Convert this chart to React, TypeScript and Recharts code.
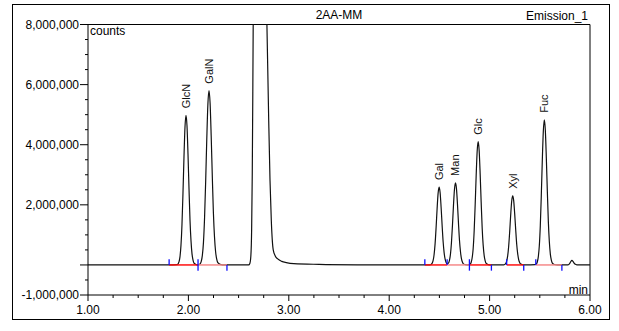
import React from 'react';
import { ComposedChart, Line, Scatter, XAxis, YAxis, ReferenceLine } from 'recharts';

// trace: [minutes, counts in millions]
const glcnGalnTrace: [number, number][] = [
  [1.0, 0], [1.8, 0], [1.886, 0.01], [1.896, 0.03], [1.906, 0.1], [1.916, 0.27],
  [1.926, 0.65], [1.936, 1.34], [1.946, 2.39], [1.956, 3.59], [1.966, 4.58],
  [1.976, 4.98], [1.986, 4.63], [1.996, 3.69], [2.006, 2.54], [2.016, 1.49],
  [2.026, 0.8], [2.036, 0.37], [2.046, 0.16], [2.056, 0.06], [2.076, 0.015],
  [2.096, 0], [2.106, 0.01], [2.117, 0.035], [2.128, 0.12], [2.139, 0.32],
  [2.15, 0.75], [2.161, 1.57], [2.172, 2.78], [2.183, 4.18], [2.194, 5.34],
  [2.205, 5.8], [2.216, 5.39], [2.227, 4.29], [2.238, 2.96], [2.249, 1.74],
  [2.26, 0.93], [2.271, 0.44], [2.282, 0.19], [2.293, 0.075], [2.315, 0.02],
  [2.34, 0.005], [2.4, 0],
];

const solventTrace: [number, number][] = [
  [2.6, 0], [2.612, 0.05], [2.622, 0.3], [2.63, 1.2], [2.636, 3.0], [2.642, 6.0],
  [2.648, 9.5], [2.66, 13.5], [2.7, 16], [2.74, 13.5], [2.765, 10.5], [2.782, 8.0],
  [2.8, 4.8], [2.813, 2.8], [2.826, 1.46], [2.835, 0.85], [2.845, 0.5],
  [2.865, 0.3], [2.89, 0.2], [2.93, 0.12], [2.975, 0.08], [3.05, 0.045],
  [3.3, 0.02], [3.7, 0.005], [4.2, 0],
];

const sugarTrace: [number, number][] = [
  [4.4, 0], [4.407, 0.005], [4.417, 0.016], [4.427, 0.052], [4.437, 0.14],
  [4.447, 0.34], [4.457, 0.7], [4.467, 1.24], [4.477, 1.86], [4.487, 2.38],
  [4.497, 2.59], [4.507, 2.41], [4.517, 1.92], [4.527, 1.32], [4.537, 0.78],
  [4.547, 0.41], [4.557, 0.19], [4.567, 0.085], [4.578, 0.04], [4.59, 0.06],
  [4.6, 0.15], [4.61, 0.35], [4.62, 0.74], [4.63, 1.31], [4.64, 1.97],
  [4.65, 2.51], [4.66, 2.73], [4.67, 2.54], [4.68, 2.02], [4.69, 1.39],
  [4.7, 0.82], [4.71, 0.44], [4.72, 0.2], [4.73, 0.09], [4.74, 0.035],
  [4.76, 0.01], [4.78, 0.005], [4.796, 0.008], [4.806, 0.025], [4.816, 0.08],
  [4.826, 0.23], [4.836, 0.53], [4.846, 1.11], [4.856, 1.97], [4.866, 2.95],
  [4.876, 3.77], [4.886, 4.1], [4.896, 3.81], [4.906, 3.03], [4.916, 2.09],
  [4.926, 1.23], [4.936, 0.66], [4.946, 0.31], [4.956, 0.135], [4.966, 0.053],
  [4.986, 0.012], [5.01, 0],
  [5.14, 0.005], [5.15, 0.014], [5.16, 0.046], [5.17, 0.127], [5.18, 0.3],
  [5.19, 0.62], [5.2, 1.1], [5.21, 1.66], [5.22, 2.12], [5.23, 2.3],
  [5.24, 2.14], [5.25, 1.7], [5.26, 1.17], [5.27, 0.69], [5.28, 0.37],
  [5.29, 0.17], [5.3, 0.076], [5.31, 0.03], [5.33, 0.007], [5.36, 0],
  [5.455, 0.01], [5.465, 0.03], [5.475, 0.097], [5.485, 0.27], [5.495, 0.63],
  [5.505, 1.3], [5.515, 2.32], [5.525, 3.48], [5.535, 4.44], [5.545, 4.83],
  [5.555, 4.49], [5.565, 3.57], [5.575, 2.46], [5.585, 1.45], [5.595, 0.77],
  [5.605, 0.36], [5.615, 0.16], [5.625, 0.063], [5.645, 0.015], [5.68, 0.005],
  [5.74, 0], [5.78, 0.005], [5.79, 0.02], [5.8, 0.06], [5.81, 0.12],
  [5.82, 0.15], [5.83, 0.12], [5.84, 0.07], [5.85, 0.03], [5.87, 0.005],
  [5.9, 0], [6.0, 0],
];

const peakNames = ['GlcN', 'GalN', 'Gal', 'Man', 'Glc', 'Xyl', 'Fuc'];
const peakTimes = [1.976, 2.205, 4.497, 4.66, 4.886, 5.23, 5.545];
const peakHeights = [4.98, 5.8, 2.59, 2.73, 4.1, 2.3, 4.83];

// integration baselines and event marks (minutes)
const baseFrom = [1.808, 2.096, 4.355, 4.577, 4.799, 5.17, 5.46];
const baseTo = [2.096, 2.384, 4.577, 4.799, 5.018, 5.34, 5.72];
const baseColors = ['#ff1010', '#f58a8a', '#ff1010', '#f58a8a', '#ff1010', '#ff1010', '#f58a8a'];
const markUp = [1.808, 2.096, 4.355, 4.577, 4.799, 5.17, 5.46];
const markDown = [2.096, 2.384, 4.799, 5.018, 5.34, 5.72];

const xTicks = [1, 1.25, 1.5, 1.75, 2, 2.25, 2.5, 2.75, 3, 3.25, 3.5, 3.75, 4, 4.25, 4.5, 4.75, 5, 5.25, 5.5, 5.75, 6];
const yTicks = [-1, -0.5, 0, 0.5, 1, 1.5, 2, 2.5, 3, 3.5, 4, 4.5, 5, 5.5, 6, 6.5, 7, 7.5, 8].map((v) => v * 1e6);
const yLabelled = [-1e6, 2e6, 4e6, 6e6, 8e6];

const trace = [...glcnGalnTrace, ...solventTrace, ...sugarTrace].map(([t, v]) => ({ t, counts: v * 1e6 }));
const peaks = peakNames.map((name, i) => ({ t: peakTimes[i], counts: peakHeights[i] * 1e6, name }));

const FONT = '"Liberation Sans", Arial, sans-serif';

const YTick = (props: any) => {
  const { x, y, payload } = props;
  const v = payload.value;
  const labelled = yLabelled.includes(v);
  const len = labelled || v === 0 ? 8 : 3;
  return (
    <g>
      <line x1={x - len} x2={x} y1={y} y2={y} stroke="#000" />
      {labelled && (
        <text x={x - 9} y={y} textAnchor="end" dominantBaseline="central" fontSize={12} fontFamily={FONT} fill="#000">
          {v.toLocaleString('en-US')}
        </text>
      )}
    </g>
  );
};

const XTick = (props: any) => {
  const { x, y, payload } = props;
  const v = payload.value;
  const major = Math.abs(v - Math.round(v)) < 1e-6;
  return (
    <g>
      <line x1={x} x2={x} y1={y} y2={y + (major ? 6 : 3)} stroke="#000" />
      {major && (
        <text x={x} y={y + 15} textAnchor="middle" dominantBaseline="central" fontSize={12} fontFamily={FONT} fill="#000">
          {v.toFixed(2)}
        </text>
      )}
    </g>
  );
};

const PeakLabel = (props: any) => {
  const { cx, cy, payload } = props;
  const y = cy - 7;
  return (
    <text x={cx} y={y} dy="0.35em" transform={`rotate(-90 ${cx} ${y})`} fontSize={11} fontFamily={FONT} fill="#111">
      {payload.name}
    </text>
  );
};

export default function App() {
  return (
    <div style={{ position: 'absolute', left: 0, top: 0, width: 619, height: 331, background: '#fff', fontFamily: FONT }}>
      <svg width={619} height={331} style={{ position: 'absolute', left: 0, top: 0 }}>
        <rect x={12.5} y={4.5} width={597} height={315} fill="none" stroke="#000" />
        <text x={339} y={15} textAnchor="middle" dominantBaseline="central" fontSize={12} fill="#000">2AA-MM</text>
        <text x={588} y={16} textAnchor="end" dominantBaseline="central" fontSize={12} fill="#000">Emission_1</text>
        <text x={90} y={31} dominantBaseline="central" fontSize={12} fill="#000">counts</text>
        <text x={588} y={290} textAnchor="end" dominantBaseline="central" fontSize={12} fill="#000">min</text>
      </svg>
      <div style={{ position: 'absolute', left: 0, top: 0 }}>
        <ComposedChart width={619} height={331} data={trace} margin={{ top: 24.5, right: 29, left: 8, bottom: 0 }}>
          <XAxis
            type="number"
            dataKey="t"
            domain={[1, 6]}
            ticks={xTicks}
            interval={0}
            allowDataOverflow
            height={36}
            tickSize={0}
            tickMargin={0}
            tick={<XTick />}
            axisLine={{ stroke: '#000' }}
          />
          <YAxis
            type="number"
            domain={[-1e6, 8e6]}
            ticks={yTicks}
            interval={0}
            allowDataOverflow
            width={80}
            tickSize={0}
            tickMargin={0}
            tick={<YTick />}
            axisLine={{ stroke: '#000' }}
          />
          <ReferenceLine y={8e6} stroke="#000" />
          <ReferenceLine x={6} stroke="#000" />
          <Line
            type="monotone"
            dataKey="counts"
            stroke="#111"
            strokeWidth={1.2}
            dot={false}
            isAnimationActive={false}
          />
          {baseFrom.map((from, i) => (
            <ReferenceLine
              key={`b${i}`}
              segment={[{ x: from, y: 0 }, { x: baseTo[i], y: 0 }]}
              stroke={baseColors[i]}
              strokeWidth={1.5}
            />
          ))}
          {markUp.map((t, i) => (
            <ReferenceLine key={`u${i}`} segment={[{ x: t, y: 0 }, { x: t, y: 0.19e6 }]} stroke="#1010ff" strokeWidth={1.3} />
          ))}
          {markDown.map((t, i) => (
            <ReferenceLine key={`d${i}`} segment={[{ x: t, y: 0 }, { x: t, y: -0.19e6 }]} stroke="#1010ff" strokeWidth={1.3} />
          ))}
          <Scatter data={peaks} dataKey="counts" shape={<PeakLabel />} isAnimationActive={false} />
        </ComposedChart>
      </div>
    </div>
  );
}
